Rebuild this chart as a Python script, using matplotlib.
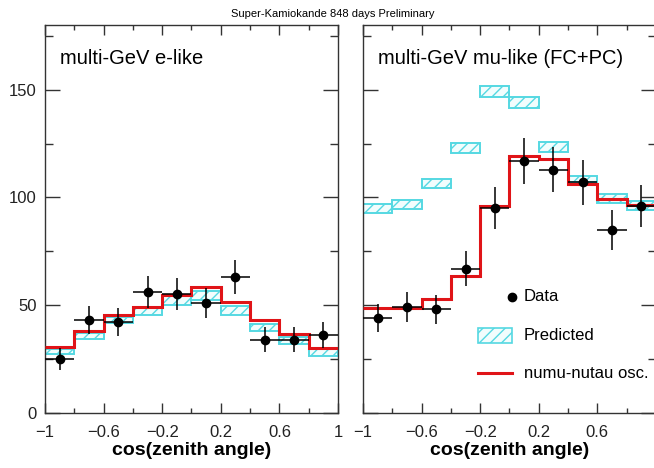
import numpy as np
import matplotlib
matplotlib.use('Agg')
import matplotlib.pyplot as plt
from matplotlib.patches import Rectangle

plt.rcParams['font.family'] = ['Liberation Sans', 'DejaVu Sans']

# bins in cos(zenith angle)
edges = [-1.0, -0.8, -0.6, -0.4, -0.2, 0.0, 0.2, 0.4, 0.6, 0.8, 1.0]

# multi-GeV e-like
e_data = [25, 43, 42, 56, 55, 51, 63, 34, 34, 36]
e_err = [5.0, 6.6, 6.5, 7.5, 7.4, 7.1, 7.9, 5.8, 5.8, 6.0]
e_pred_lo = [27.3, 34.3, 41.9, 45.6, 50.1, 52.6, 45.4, 38.1, 32.0, 26.5]
e_pred_hi = [29.6, 36.9, 44.7, 48.5, 54.1, 56.7, 49.4, 41.2, 35.3, 29.6]
e_osc = [30.4, 37.8, 45.4, 49.2, 54.9, 58.6, 51.3, 42.9, 36.4, 30.2]

# multi-GeV mu-like (FC+PC)
mu_data = [44, 49, 48, 67, 95, 117, 113, 107, 85, 96]
mu_err = [6.6, 7.0, 6.9, 8.2, 9.7, 10.8, 10.6, 10.3, 9.2, 9.8]
mu_pred_lo = [92.6, 94.5, 104.2, 120.5, 146.6, 141.5, 121.0, 107.2, 97.5, 94.2]
mu_pred_hi = [97.1, 98.9, 108.8, 125.5, 151.9, 146.5, 126.0, 110.2, 101.5, 98.4]
mu_osc = [48.7, 48.7, 52.9, 63.7, 96.0, 119.2, 117.7, 106.4, 99.4, 96.3]

xticks = [-1, -0.6, -0.2, 0.2, 0.6, 1]
xticklabels = ['\u22121', '\u22120.6', '\u22120.2', '0.2', '0.6', '1']
xminor = [-0.8, -0.4, 0.0, 0.4, 0.8]
yticks = [0, 50, 100, 150]
yminor = [25, 75, 125, 175]

cyan = '#55d8e2'
red = '#e01418'
spine_col = '#333333'

edges = np.array(edges)
centers = (edges[:-1] + edges[1:]) / 2
widths = np.diff(edges)

fig = plt.figure(figsize=(6.54, 4.68), dpi=100)
ax1 = fig.add_axes([0.0688, 0.118, 0.448, 0.828])
ax2 = fig.add_axes([0.555, 0.118, 0.448, 0.828])


def draw_panel(ax, title, data, err, lo, hi, osc):
    lo = np.array(lo)
    hi = np.array(hi)
    ax.bar(centers, hi - lo, bottom=lo, width=widths, facecolor='#f2fdfd',
           edgecolor=cyan, hatch='///', linewidth=1.4, zorder=2)
    ax.stairs(osc, edges, baseline=None, color=red, linewidth=2.2, zorder=3)
    ax.errorbar(centers, data, yerr=err, xerr=widths / 2, fmt='o', color='black',
                ms=6, elinewidth=1.1, capsize=0, zorder=4)
    ax.set_xlim(-1, 1)
    ax.set_ylim(0, 180)
    ax.set_xticks(xticks)
    ax.set_xticks(xminor, minor=True)
    ax.set_yticks(yticks)
    ax.set_yticks(yminor, minor=True)
    ax.tick_params(axis='both', which='both', direction='in', top=True, right=True,
                   color=spine_col, width=1.0, labelsize=12, labelcolor='#222222')
    ax.tick_params(axis='x', which='major', length=7, pad=9)
    ax.tick_params(axis='x', which='minor', length=3.5)
    ax.tick_params(axis='y', which='major', length=11, pad=6)
    ax.tick_params(axis='y', which='minor', length=6)
    for s in ax.spines.values():
        s.set_color(spine_col)
        s.set_linewidth(1.0)
    ax.set_xlabel('cos(zenith angle)', fontsize=14, fontweight='bold', labelpad=1)
    ax.text(0.05, 0.915, title, transform=ax.transAxes, fontsize=14.5,
            ha='left', va='center')


draw_panel(ax1, 'multi-GeV e-like', e_data, e_err, e_pred_lo, e_pred_hi, e_osc)
draw_panel(ax2, 'multi-GeV mu-like (FC+PC)', mu_data, mu_err, mu_pred_lo, mu_pred_hi, mu_osc)

ax1.set_xticklabels(xticklabels)
ax1.set_yticklabels([str(v) for v in yticks])
ax2.set_xticklabels(xticklabels[:-1] + [''])
ax2.set_yticklabels([])

# legend drawn by hand, as in the original
ax2.plot([0.507], [0.299], 'o', color='black', ms=6, transform=ax2.transAxes)
ax2.text(0.548, 0.299, 'Data', transform=ax2.transAxes, fontsize=12, va='center')
ax2.add_patch(Rectangle((0.394, 0.180), 0.113, 0.039, transform=ax2.transAxes,
                        facecolor='#f2fdfd', edgecolor=cyan, hatch='///', linewidth=1.2))
ax2.text(0.548, 0.199, 'Predicted', transform=ax2.transAxes, fontsize=12, va='center')
ax2.plot([0.394, 0.507], [0.102, 0.102], color=red, linewidth=2.2, transform=ax2.transAxes)
ax2.text(0.548, 0.102, 'numu-nutau osc.', transform=ax2.transAxes, fontsize=12, va='center')

fig.text(0.509, 0.970, 'Super-Kamiokande 848 days Preliminary', fontsize=8,
         ha='center', va='center')

fig.savefig('out.png', dpi=100)
